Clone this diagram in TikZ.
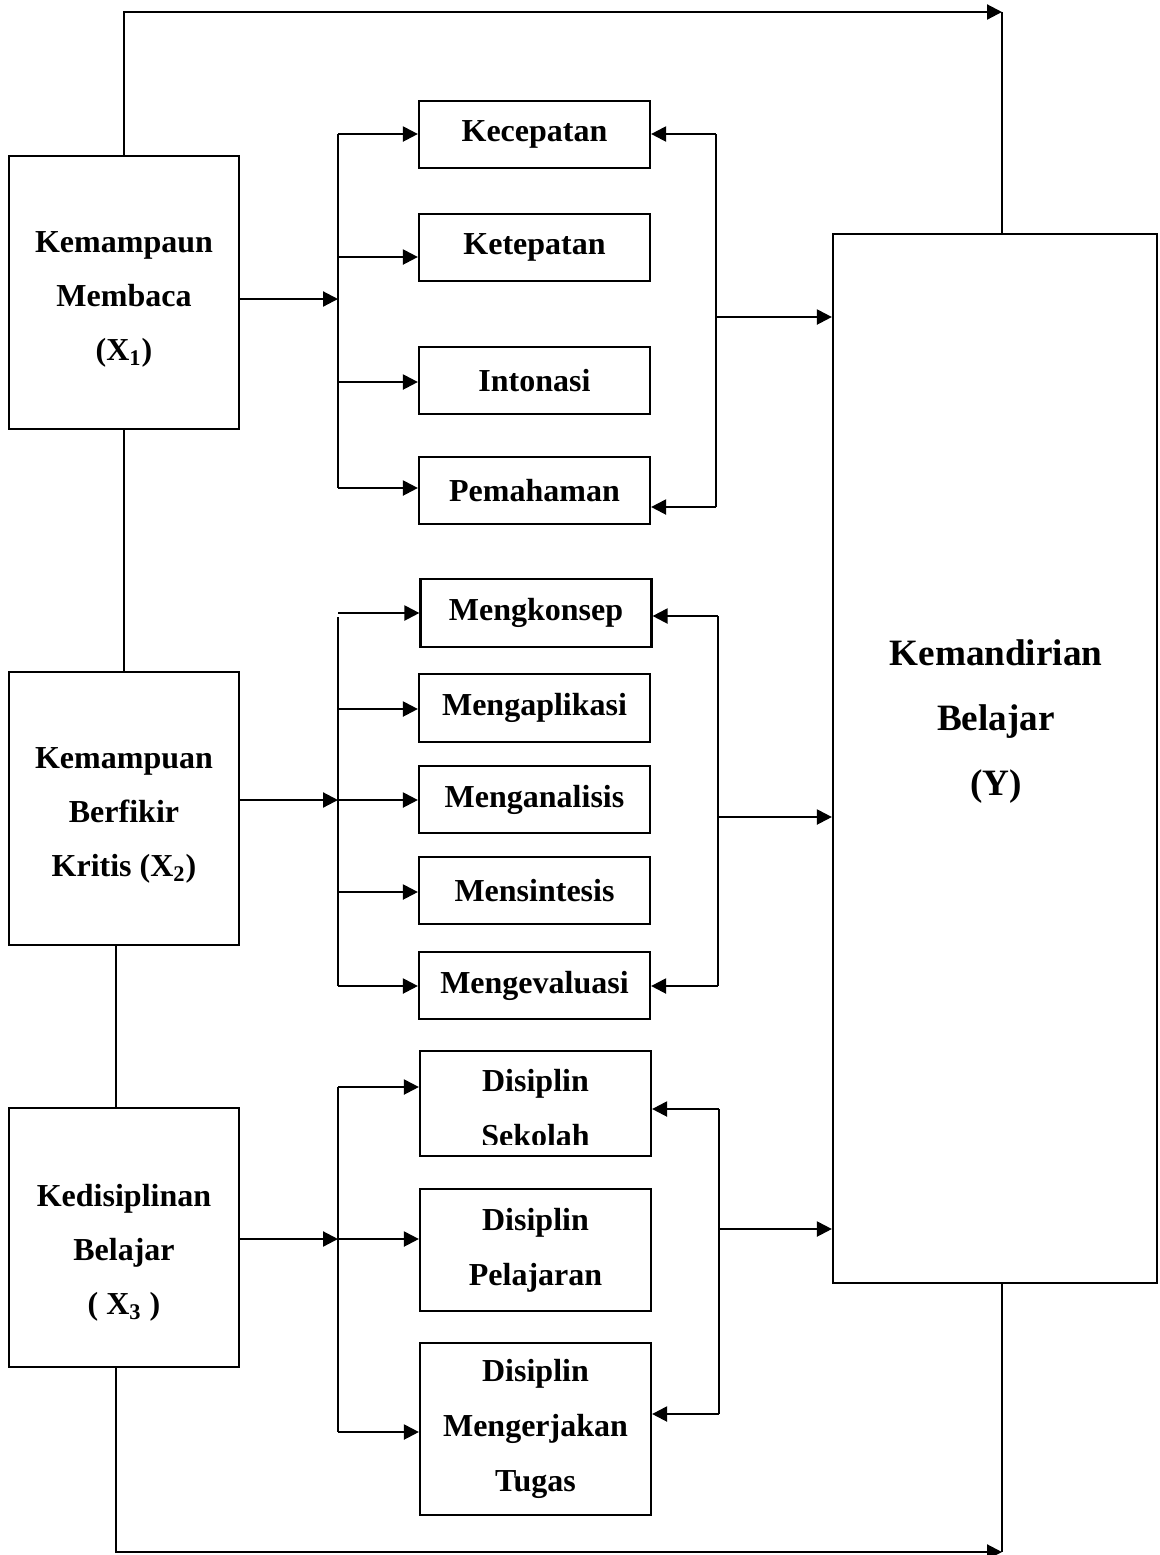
\documentclass[tikz,border=0pt]{standalone}
\usepackage{fontspec}
\setmainfont{Liberation Serif}
\usetikzlibrary{arrows.meta,calc}
\definecolor{Ink}{HTML}{000000}
\definecolor{Paper}{HTML}{FFFFFF}
\tikzset{varbox/.style={rectangle,draw=Ink,line width=1.1pt,fill=Paper,minimum width=115pt},
varlabel/.style={text=Ink,align=center,font=\fontsize{16}{27}\selectfont\bfseries},
aspect/.style={rectangle,draw=Ink,line width=1.1pt,fill=Paper,minimum width=115.5pt,align=center,text=Ink,inner sep=2pt,font=\fontsize{16}{27.5}\selectfont\bfseries},
outcome/.style={rectangle,draw=Ink,line width=1.1pt,fill=Paper,minimum width=162pt,minimum height=524.5pt},
plain/.style={draw=Ink,line width=1.1pt},
branch/.style={draw=Ink,line width=1.1pt,-{Triangle[length=7.5pt,width=7.5pt]}}}
\begin{document}
\begin{tikzpicture}[x=0.5pt,y=-0.5pt]
\useasboundingbox[fill=Paper] (0,0) rectangle (1160,1555);
% variables
\node[varbox,minimum height=136.5pt] (x1) at (124,292.5) {};
\node[varbox,minimum height=136.5pt] (x2) at (124,808.5) {};
\node[varbox,minimum height=129.5pt] (x3) at (124,1237.5) {};
\node[varlabel] (x1lab) at (124,299) {Kemampaun\\Membaca\\(X\textsubscript{1})};
\node[varlabel] (x2lab) at (124,815) {Kemampuan\\Berfikir\\Kritis (X\textsubscript{2})};
\node[varlabel] (x3lab) at (124,1253) {Kedisiplinan\\Belajar\\( X\textsubscript{3} )};
\node[outcome] (y) at (995,758.5) {};
\node[text=Ink,align=center,font=\fontsize{18.6}{32.5}\selectfont\bfseries] (ylab) at (996,722) {Kemandirian\\Belajar\\(Y)};
% indicators
\node[aspect,minimum height=33.5pt] (k1) at (534.5,134.5) {Kecepatan};
\node[aspect,minimum height=33.5pt] (k2) at (534.5,247.5) {Ketepatan};
\node[aspect,minimum height=33.5pt] (k3) at (534.5,380.5) {Intonasi};
\node[aspect,minimum height=33.5pt] (k4) at (534.5,490.5) {Pemahaman};
\node[aspect,minimum height=34pt] (m1) at (536,613) {Mengkonsep};
\node[aspect,minimum height=34pt] (m2) at (534.5,708) {Mengaplikasi};
\node[aspect,minimum height=33.5pt] (m3) at (534.5,799.5) {Menganalisis};
\node[aspect,minimum height=33.5pt] (m4) at (534.5,890.5) {Mensintesis};
\node[aspect,minimum height=33.5pt] (m5) at (534.5,985.5) {Mengevaluasi};
\node[aspect,minimum height=52.5pt] (d1) at (535.5,1103.5) {};
\begin{scope}
\clip (425,1055) rectangle (646,1144);
\node[text=Ink,align=center,font=\fontsize{16}{27.5}\selectfont\bfseries] (d1lab) at (535.5,1108.5) {Disiplin\\Sekolah};
\end{scope}
\node[aspect,minimum height=61pt] (d2) at (535.5,1250) {Disiplin\\Pelajaran};
\node[aspect,minimum height=86pt] (d3) at (535.5,1429) {Disiplin\\Mengerjakan\\Tugas};
% junctions
\coordinate (j1) at (338,299);
\coordinate (j2) at (338,800);
\coordinate (j3) at (338,1239);
\coordinate (topc) at (1002,12);
\coordinate (botc) at (1002,1552);
% direct links to Y
\draw[branch] (x1.north) |- (topc);
\draw[plain] (y.north -| topc) -- (topc);
\draw[plain] (x1.south) -- (x2.north);
\draw[plain] ([xshift=-4pt]x2.south) -- ([xshift=-4pt]x3.north);
\draw[branch] ([xshift=-4pt]x3.south) |- (botc);
\draw[plain] (y.south -| botc) -- (botc);
% group 1
\draw[branch] (x1.east |- j1) -- (j1);
\draw[plain] (338,134) -- (338,488);
\draw[branch] (338,134) -- (k1.west |- 0,134);
\draw[branch] (338,257) -- (k2.west |- 0,257);
\draw[branch] (338,382) -- (k3.west |- 0,382);
\draw[branch] (338,488) -- (k4.west |- 0,488);
\draw[plain] (716,134) -- (716,507);
\draw[branch] (716,134) -- (k1.east |- 0,134);
\draw[branch] (716,507) -- (k4.east |- 0,507);
\draw[branch] (716,317) -- (y.west |- 0,317);
% group 2
\draw[branch] (x2.east |- j2) -- (j2);
\draw[plain] (338,617) -- (338,986);
\draw[branch] (338,613) -- (m1.west |- 0,613);
\draw[branch] (338,709) -- (m2.west |- 0,709);
\draw[branch] (338,800) -- (m3.west |- 0,800);
\draw[branch] (338,892) -- (m4.west |- 0,892);
\draw[branch] (338,986) -- (m5.west |- 0,986);
\draw[plain] (718,616) -- (718,986);
\draw[branch] (718,616) -- (m1.east |- 0,616);
\draw[branch] (718,986) -- (m5.east |- 0,986);
\draw[branch] (718,817) -- (y.west |- 0,817);
% group 3
\draw[branch] (x3.east |- j3) -- (j3);
\draw[plain] (338,1087) -- (338,1432);
\draw[branch] (338,1087) -- (d1.west |- 0,1087);
\draw[branch] (338,1239) -- (d2.west |- 0,1239);
\draw[branch] (338,1432) -- (d3.west |- 0,1432);
\draw[plain] (719,1109) -- (719,1414);
\draw[branch] (719,1109) -- (d1.east |- 0,1109);
\draw[branch] (719,1414) -- (d3.east |- 0,1414);
\draw[branch] (719,1229) -- (y.west |- 0,1229);
\end{tikzpicture}
\end{document}
